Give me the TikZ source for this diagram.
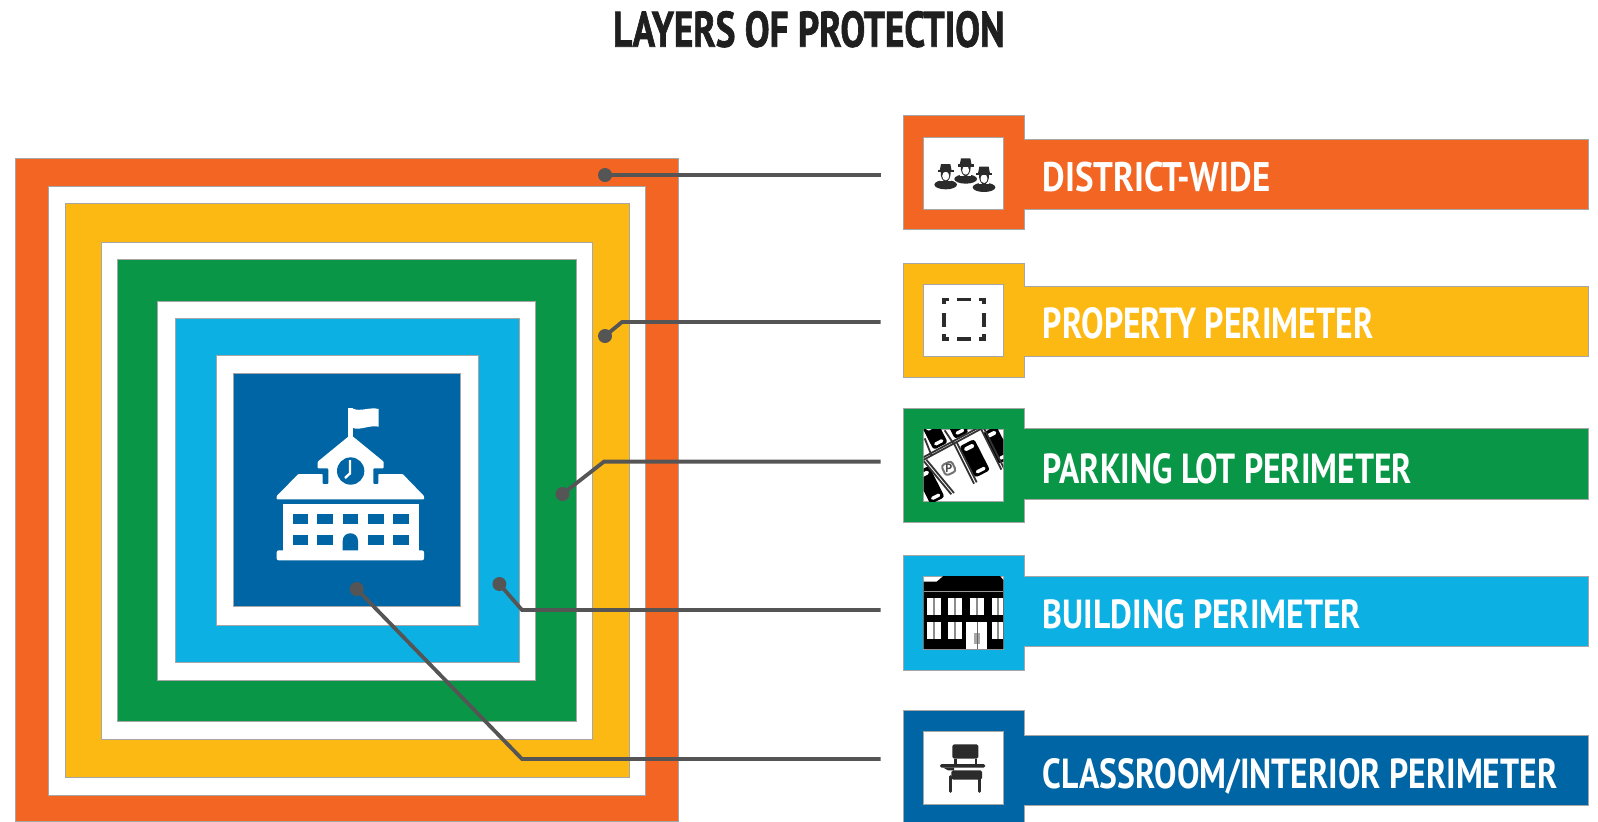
\documentclass[tikz,border=0pt]{standalone}
\usepackage{graphicx}
\usepackage{fontspec}
\setmainfont{PT Sans}
\newfontfamily\ttlfont[BoldFeatures={FakeBold=1.6}]{PT Sans}
\definecolor{cOr}{HTML}{F26522}
\definecolor{cYe}{HTML}{FDB913}
\definecolor{cGr}{HTML}{0A9647}
\definecolor{cLb}{HTML}{0DB0E3}
\definecolor{cNa}{HTML}{0065A4}
\definecolor{cLn}{HTML}{555555}
\definecolor{cIc}{HTML}{2B2B2B}
\tikzset{
  edge/.style={draw=black!35,line width=0.35pt},
  wire/.style={draw=cLn,line width=1.9pt},
  wdot/.style={fill=cLn},
  lab/.style={anchor=base west,inner sep=0pt,text=white,font=\bfseries},
  ttl/.style={anchor=base west,inner sep=0pt,text=black!88,font=\ttlfont\bfseries},
}
% legend row: colour, top, bottom, bar top, bar bottom, white top, white bottom
\newcommand{\legendrow}[7]{%
  \fill[#1,edge] (903,#2) -- (1024.7,#2) -- (1024.7,#4) -- (1588,#4) -- (1588,#5) -- (1024.7,#5) -- (1024.7,#3) -- (903,#3) -- cycle;
  \fill[white,edge] (923.7,#6) rectangle (1003.3,#7);
}
\newcommand{\carshape}[5]{% x y rot len wid
  \begin{scope}[shift={(#1,#2)},rotate=#3]
    \fill[black,rounded corners=1.5pt] (-#4/2,-#5/2) rectangle (#4/2,#5/2);
    \fill[white,rounded corners=0.8pt] (-#4/2+10,-#5/2+9) rectangle (-#4/2+22,#5/2-9);
    \fill[white,rounded corners=0.8pt] (#4/2-18,-#5/2+9) rectangle (#4/2-8,#5/2-9);
  \end{scope}
}
\newcommand{\officer}[2]{% x, hat top y
  \fill[white] (#1,#2+62) ellipse [x radius=37,y radius=17];
  \fill[cIc] (#1,#2+62) ellipse [x radius=34,y radius=14];
  \fill[white] (#1-16,#2+36) rectangle (#1+16,#2+52);
  \fill[cIc] (#1-15,#2+22) .. controls (#1-16,#2+42) and (#1-8,#2+52) .. (#1,#2+54) .. controls (#1+8,#2+52) and (#1+16,#2+42) .. (#1+15,#2+22) -- cycle;
  \fill[white] (#1,#2+36) ellipse [x radius=10.5,y radius=13];
  \fill[cIc] (#1-14,#2) -- (#1+14,#2) -- (#1+18,#2+20) -- (#1-18,#2+20) -- cycle;
  \fill[cIc] (#1-24,#2+18) rectangle (#1+24,#2+25);
}
\begin{document}
\begin{tikzpicture}[x=0.5pt,y=-0.5pt]
\useasboundingbox (0,0) rectangle (1598,821);
\fill[white] (0,0) rectangle (1598,821);
% concentric squares
\fill[cOr,edge] (15.3,158) rectangle (678.5,821);
\fill[white,edge] (48,186.5) rectangle (645.5,795);
\fill[cYe,edge] (65,203) rectangle (629.5,777.6);
\fill[white,edge] (101,242.5) rectangle (592.5,739);
\fill[cGr,edge] (117,259) rectangle (576.5,721.5);
\fill[white,edge] (157,301.7) rectangle (535.5,680);
\fill[cLb,edge] (175,318) rectangle (519.5,662);
\fill[white,edge] (216,355.7) rectangle (478,625);
\fill[cNa,edge] (233.3,373.3) rectangle (460.7,606.7);
% school icon
\begin{scope}[shift={(220,360)},scale=1/3]
  \fill[white] (385,145) rectangle (399,232);
  \fill[white] (399,146) .. controls (420,156) and (450,140) .. (476,147) -- (476,200) .. controls (450,194) and (420,212) .. (399,204) -- cycle;
  \fill[white,rounded corners=0.4pt] (170,408) -- (235,342) -- (308,342) -- (308,372) -- (325,372) -- (325,325) -- (293,325) -- (293,305) -- (392,224) -- (491,305) -- (491,325) -- (460,325) -- (460,372) -- (475,372) -- (475,342) -- (548,342) -- (612,408) -- (612,418) -- (170,418) -- cycle;
  \fill[cNa] (392,333) circle (41);
  \draw[white,line width=1.2pt] (390,300) -- (390,340) -- (375,354);
  \fill[white] (188,432) rectangle (597,575);
  \fill[white,rounded corners=1pt] (170,571) rectangle (612,601);
  \foreach \wx in {218,292,368,445,520}{\fill[cNa] (\wx,463) rectangle ++(46,30);}
  \foreach \wx in {218,292,445,520}{\fill[cNa] (\wx,525) rectangle ++(46,30);}
  \fill[cNa] (368,571) -- (368,543) .. controls (368,512) and (414,512) .. (414,543) -- (414,571) -- cycle;
\end{scope}
% legend
\legendrow{cOr}{115}{229.7}{139}{209}{137}{209}
\legendrow{cYe}{263}{377}{286.7}{356.7}{284}{356}
\legendrow{cGr}{408}{522.7}{428.7}{499}{429}{501}
\legendrow{cLb}{555.7}{670}{576}{646}{576}{649}
\legendrow{cNa}{710}{830}{735}{805}{731.7}{804}
% police icon
\begin{scope}[shift={(925,150)},scale=1/3]
  \officer{122}{25}
  \officer{62}{42}
  \officer{177}{50}
\end{scope}
% dashed-square icon
\begin{scope}[shift={(880,100)},scale=1/3]
  \draw[cIc,line width=1.7pt] (192,612) -- (192,598) -- (206,598);
  \draw[cIc,line width=1.7pt] (298,598) -- (312,598) -- (312,612);
  \draw[cIc,line width=1.7pt] (192,703) -- (192,717) -- (206,717);
  \draw[cIc,line width=1.7pt] (298,717) -- (312,717) -- (312,703);
  \draw[cIc,line width=1.7pt] (232,598) -- (272,598);
  \draw[cIc,line width=1.7pt] (232,717) -- (272,717);
  \draw[cIc,line width=1.7pt] (192,640) -- (192,680);
  \draw[cIc,line width=1.7pt] (312,640) -- (312,680);
\end{scope}
% parking icon
\begin{scope}[shift={(918,425)},scale=1/3]
  \clip (17,12) rectangle (256,228);
  \carshape{170}{100}{-63}{105}{50}
  \carshape{238}{60}{-63}{105}{46}
  \carshape{35}{180}{-63}{105}{48}
  \carshape{50}{28}{-63}{80}{48}
  \carshape{118}{5}{-63}{60}{46}
  \foreach \ox in {0,8}{
    \draw[black!80,line width=0.9pt] (10,100+\ox) -- (270,-40+\ox);
  }
  \foreach \ox/\oy/\ex/\ey in {108/56/168/176, 116/52/176/172, 190/14/250/134, 198/10/258/130, 17/108/100/208, 25/104/108/204, 80/16/108/58, 20/40/40/90}{
    \draw[black!80,line width=0.9pt] (\ox,\oy) -- (\ex,\ey);
  }
  \begin{scope}[shift={(92,130)},rotate=25]
    \draw[black!55,line width=1pt,rounded corners=1.5pt] (-17,-17) rectangle (17,17);
    \node (psign) [inner sep=0pt,text=black!70,font=\bfseries\fontsize{6}{6}\selectfont] at (0,0) {P};
  \end{scope}
\end{scope}
% building icon
\begin{scope}[shift={(880,390)},scale=1/3]
  \fill[black] (131,575) -- (170,575) -- (190,558) -- (360,558) -- (370,570) -- (370,777) -- (131,777) -- cycle;
  \draw[black!40,line width=0.5pt] (131,605) -- (370,605);
  \foreach \wx/\ww in {140/42,205/42,270/42,335/35}{
    \fill[white] (\wx,625) rectangle ++(\ww,50);
    \fill[black!45] (\wx+\ww/2-3,625) rectangle ++(6,50);
  }
  \foreach \wx/\ww in {140/42,205/42,335/35}{
    \fill[white] (\wx,695) rectangle ++(\ww,53);
    \fill[black!45] (\wx+\ww/2-3,695) rectangle ++(6,53);
  }
  \fill[white] (258,697) rectangle (322,777);
  \fill[black!35] (282,728) rectangle (301,762);
  \draw[black!60,line width=0.3pt] (291.5,697) -- (291.5,777);
\end{scope}
% desk icon
\begin{scope}[shift={(880,390)},scale=1/3]
  \fill[cIc,rounded corners=0.8pt] (217,1063) rectangle (295,1106);
  \fill[cIc] (222,1106) rectangle (230,1125);
  \fill[cIc] (284,1106) rectangle (292,1125);
  \fill[cIc,rounded corners=0.8pt] (180,1122) rectangle (316,1133);
  \fill[cIc] (190,1133) -- (222,1133) -- (222,1141) -- (204,1141) -- cycle;
  \fill[cIc,rounded corners=0.8pt] (214,1141) rectangle (306,1169);
  \draw[cIc,line width=1.5pt,line cap=round] (211,1160) -- (211,1204);
  \draw[cIc,line width=1.5pt,line cap=round] (299,1160) -- (299,1204);
\end{scope}
% connectors
\coordinate (d1) at (605,175);   \coordinate (e1) at (880.5,175);
\coordinate (d2) at (605,336);   \coordinate (k2) at (622,322);   \coordinate (e2) at (880.5,322);
\coordinate (d3) at (562.5,494); \coordinate (k3) at (604,461.6); \coordinate (e3) at (880.5,461.6);
\coordinate (d4) at (499.4,584); \coordinate (k4) at (522,610);   \coordinate (e4) at (880.5,610);
\coordinate (d5) at (356.7,589); \coordinate (k5) at (522,759);   \coordinate (e5) at (880.5,759);
\draw[wire] (d1) -- (e1);
\draw[wire] (d2) -- (k2) -- (e2);
\draw[wire] (d3) -- (k3) -- (e3);
\draw[wire] (d4) -- (k4) -- (e4);
\draw[wire] (d5) -- (k5) -- (e5);
\foreach \dn in {d1,d2,d3,d4,d5}{\fill[wdot] (\dn) circle (7);}
% texts
\node (title) [ttl] at (612.7,46.7) {\resizebox{195.7pt}{17.8pt}{LAYERS OF PROTECTION}};
\node (t1) [lab] at (1042.3,191) {\resizebox{113.9pt}{14.75pt}{DISTRICT-WIDE}};
\node (t2) [lab] at (1042.5,338) {\resizebox{165.2pt}{15.5pt}{PROPERTY PERIMETER}};
\node (t3) [lab] at (1042.5,483) {\resizebox{184.5pt}{15pt}{PARKING LOT PERIMETER}};
\node (t4) [lab] at (1042.5,628) {\resizebox{159pt}{14.5pt}{BUILDING PERIMETER}};
\node (t5) [lab] at (1042.5,788) {\resizebox{257.2pt}{15pt}{CLASSROOM/INTERIOR PERIMETER}};
\end{tikzpicture}
\end{document}
